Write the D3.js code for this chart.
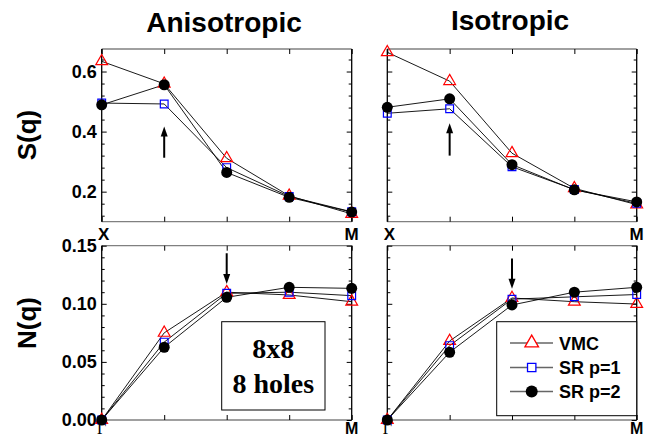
<!DOCTYPE html>
<html>
<head>
<meta charset="utf-8">
<script src="https://cdn.jsdelivr.net/npm/d3@7"></script>
<style>
  body { margin: 0; background: #fff; }
  text { font-family: "Liberation Sans", Arial, sans-serif; font-weight: bold; }
</style>
</head>
<body>
<svg id="chart"></svg>
<script>
// Momentum points along the path (index 0..4)
var kIndex = [0, 1, 2, 3, 4];
var topLabels = ["X", "M"];
var bottomLabels = ["\u0393", "M"];
var titles = ["Anisotropic", "Isotropic"];
var seriesNames = ["VMC", "SR p=1", "SR p=2"];

// S(q) values
var sAniVMC = [0.634, 0.559, 0.311, 0.186, 0.126];
var sAniP1  = [0.495, 0.492, 0.280, 0.184, 0.133];
var sAniP2  = [0.489, 0.556, 0.264, 0.181, 0.132];
var sIsoVMC = [0.664, 0.568, 0.328, 0.211, 0.157];
var sIsoP1  = [0.461, 0.476, 0.283, 0.207, 0.161];
var sIsoP2  = [0.481, 0.509, 0.290, 0.206, 0.166];

// N(q) values
var nAniVMC = [0, 0.075, 0.110, 0.1076, 0.1018];
var nAniP1  = [0, 0.067, 0.109, 0.110, 0.107];
var nAniP2  = [0, 0.0626, 0.1056, 0.1142, 0.1133];
var nIsoVMC = [0, 0.068, 0.105, 0.1018, 0.0998];
var nIsoP1  = [0, 0.064, 0.104, 0.106, 0.108];
var nIsoP2  = [0, 0.0583, 0.099, 0.110, 0.1142];

// tick values
var sMajor = [0.2, 0.4, 0.6];
var sMinor = [0.12, 0.16, 0.24, 0.28, 0.32, 0.36, 0.44, 0.48, 0.52, 0.56, 0.64];
var nMajor = [0, 0.05, 0.10, 0.15];
var nMinor = [0.01, 0.02, 0.03, 0.04, 0.06, 0.07, 0.08, 0.09, 0.11, 0.12, 0.13, 0.14];

// arrows: [k index, from value, to value]
var arrowsS = [[1, 0.313, 0.417], [1, 0.32, 0.428]];
var arrowsN = [[2, 0.1435, 0.117], [2, 0.139, 0.113]];

// Page setup
var width = 650, height = 439;
var svg = d3.select("#chart")
    .attr("width", width)
    .attr("height", height)
    .attr("viewBox", [0, 0, width, height]);

var cols = [[101.7, 351.7], [387.3, 636.7]];
var rows = [[49, 221.7], [245.7, 420]];

var colors = ["#ff0000", "#0000ff", "#000000"];

var triangle = d3.symbol().type(d3.symbolTriangle).size(60);
var square = d3.symbol().type(d3.symbolSquare).size(60);

function drawPanel(col, row, data, domain, major, minor, labelFmt, xLabels, arrow) {
  var x = d3.scalePoint().domain(kIndex).range(cols[col]);
  var y = d3.scaleLinear().domain(domain).range([rows[row][1], rows[row][0]]);
  var g = svg.append("g");

  // frame: gray horizontals, black verticals
  g.append("line").attr("x1", cols[col][0]).attr("x2", cols[col][1])
      .attr("y1", rows[row][0]).attr("y2", rows[row][0])
      .attr("stroke", "#808080").attr("stroke-width", 1.3);
  g.append("line").attr("x1", cols[col][0]).attr("x2", cols[col][1])
      .attr("y1", rows[row][1]).attr("y2", rows[row][1])
      .attr("stroke", "#808080").attr("stroke-width", 1.3);
  g.append("line").attr("x1", cols[col][0]).attr("x2", cols[col][0])
      .attr("y1", rows[row][0]).attr("y2", rows[row][1])
      .attr("stroke", "#000").attr("stroke-width", 1.3);
  g.append("line").attr("x1", cols[col][1]).attr("x2", cols[col][1])
      .attr("y1", rows[row][0]).attr("y2", rows[row][1])
      .attr("stroke", "#000").attr("stroke-width", 1.3);

  // y axes (ticks inside)
  var left = g.append("g").attr("transform", "translate(" + cols[col][0] + ",0)")
      .call(d3.axisLeft(y).tickValues(major).tickSize(-5).tickSizeOuter(0).tickPadding(5)
        .tickFormat(col == 0 ? labelFmt : ""));
  g.append("g").attr("transform", "translate(" + cols[col][0] + ",0)")
      .call(d3.axisLeft(y).tickValues(minor).tickSize(-3).tickSizeOuter(0).tickFormat(""));
  g.append("g").attr("transform", "translate(" + cols[col][1] + ",0)")
      .call(d3.axisRight(y).tickValues(major).tickSize(-5).tickSizeOuter(0).tickFormat(""));
  g.append("g").attr("transform", "translate(" + cols[col][1] + ",0)")
      .call(d3.axisRight(y).tickValues(minor).tickSize(-3).tickSizeOuter(0).tickFormat(""));
  // x ticks top and bottom
  g.append("g").attr("transform", "translate(0," + rows[row][0] + ")")
      .call(d3.axisTop(x).tickSize(-5).tickSizeOuter(0).tickFormat(""));
  g.append("g").attr("transform", "translate(0," + rows[row][1] + ")")
      .call(d3.axisBottom(x).tickSize(-5).tickSizeOuter(0).tickFormat(""));
  g.selectAll(".domain").remove();
  g.selectAll(".tick line").attr("stroke", "#000").attr("stroke-width", 1);
  left.selectAll("text").attr("font-size", 18).attr("fill", "#000")
      .style("font-family", "'Liberation Sans', Arial, sans-serif").attr("font-weight", "bold");

  // x end labels
  if (row == 0) {
    g.append("text").attr("x", x(0) + 2).attr("y", rows[row][1] + 18)
        .attr("text-anchor", "middle").attr("font-size", 17).text(xLabels[0]);
    g.append("text").attr("x", x(4)).attr("y", rows[row][1] + 18)
        .attr("text-anchor", "middle").attr("font-size", 17).text(xLabels[1]);
  } else {
    g.append("text").attr("x", x(0)).attr("y", rows[row][1] + 14)
        .attr("text-anchor", "middle").attr("font-size", 16)
        .style("font-family", "'Liberation Serif', serif").style("font-weight", "normal")
        .text(xLabels[0]);
    g.append("text").attr("x", x(4)).attr("y", rows[row][1] + 14)
        .attr("text-anchor", "middle").attr("font-size", 16).text(xLabels[1]);
  }

  // lines
  var line = d3.line().x(function(d, i) { return x(i); }).y(function(d) { return y(d); });
  data.forEach(function(s) {
    g.append("path").datum(s).attr("d", line)
        .attr("fill", "none").attr("stroke", "#000").attr("stroke-width", 0.9);
  });

  // markers
  g.selectAll(".tri").data(data[0]).enter().append("path")
      .attr("transform", function(d, i) { return "translate(" + x(i) + "," + y(d) + ")"; })
      .attr("d", triangle).attr("fill", "none").attr("stroke", colors[0]).attr("stroke-width", 1.2);
  g.selectAll(".sq").data(data[1]).enter().append("path")
      .attr("transform", function(d, i) { return "translate(" + x(i) + "," + y(d) + ")"; })
      .attr("d", square).attr("fill", "none").attr("stroke", colors[1]).attr("stroke-width", 1.2);
  g.selectAll(".dot").data(data[2]).enter().append("circle")
      .attr("cx", function(d, i) { return x(i); })
      .attr("cy", function(d) { return y(d); })
      .attr("r", 5.5).attr("fill", colors[2]);

  // arrow
  var ax = x(arrow[0]), y0 = y(arrow[1]), y1 = y(arrow[2]);
  var dir = y1 < y0 ? -1 : 1;
  g.append("line").attr("x1", ax).attr("x2", ax).attr("y1", y0).attr("y2", y1 - dir * 8)
      .attr("stroke", "#000").attr("stroke-width", 2);
  g.append("path")
      .attr("d", "M" + ax + "," + y1 + "L" + (ax - 3.5) + "," + (y1 - dir * 10) +
        "L" + (ax + 3.5) + "," + (y1 - dir * 10) + "Z")
      .attr("fill", "#000");
  return {x: x, y: y};
}

var fmtS = d3.format(".1f");
var fmtN = d3.format(".2f");

drawPanel(0, 0, [sAniVMC, sAniP1, sAniP2], [0.1, 0.675], sMajor, sMinor, fmtS, topLabels, arrowsS[0]);
drawPanel(1, 0, [sIsoVMC, sIsoP1, sIsoP2], [0.1, 0.675], sMajor, sMinor, fmtS, topLabels, arrowsS[1]);
drawPanel(0, 1, [nAniVMC, nAniP1, nAniP2], [0, 0.15], nMajor, nMinor, fmtN, bottomLabels, arrowsN[0]);
drawPanel(1, 1, [nIsoVMC, nIsoP1, nIsoP2], [0, 0.15], nMajor, nMinor, fmtN, bottomLabels, arrowsN[1]);

// Titles
svg.append("text").attr("x", 224).attr("y", 32).attr("text-anchor", "middle")
    .attr("font-size", 28).text(titles[0]);
svg.append("text").attr("x", 510).attr("y", 30).attr("text-anchor", "middle")
    .attr("font-size", 28).text(titles[1]);

// Y labels
svg.append("text").attr("transform", "translate(36,135) rotate(-90)")
    .attr("text-anchor", "middle").attr("font-size", 26).text("S(q)");
svg.append("text").attr("transform", "translate(36,323) rotate(-90)")
    .attr("text-anchor", "middle").attr("font-size", 26).text("N(q)");

// Size annotation box
var note = svg.append("g");
note.append("rect").attr("x", 221.7).attr("y", 321.7).attr("width", 103.3).attr("height", 88.3)
    .attr("fill", "#fff").attr("stroke", "#000").attr("stroke-width", 1);
note.append("text").attr("x", 273.3).attr("y", 358).attr("text-anchor", "middle")
    .style("font-family", "'Liberation Serif', serif").attr("font-size", 28).text("8x8");
note.append("text").attr("x", 273.3).attr("y", 393).attr("text-anchor", "middle")
    .style("font-family", "'Liberation Serif', serif").attr("font-size", 28).text("8 holes");

// Legend
var legend = svg.append("g");
legend.append("rect").attr("x", 496.7).attr("y", 321.7).attr("width", 140).attr("height", 94)
    .attr("fill", "#fff").attr("stroke", "#000").attr("stroke-width", 1);
var legRows = [343, 367.5, 391.5];
seriesNames.forEach(function(name, i) {
  legend.append("line").attr("x1", 510).attr("x2", 553).attr("y1", legRows[i]).attr("y2", legRows[i])
      .attr("stroke", "#666").attr("stroke-width", 1.5);
  if (i == 0) {
    legend.append("path").attr("transform", "translate(531.7," + legRows[i] + ")")
        .attr("d", d3.symbol().type(d3.symbolTriangle).size(80))
        .attr("fill", "#fff").attr("stroke", colors[0]).attr("stroke-width", 1.3);
  } else if (i == 1) {
    legend.append("path").attr("transform", "translate(531.7," + legRows[i] + ")")
        .attr("d", d3.symbol().type(d3.symbolSquare).size(70))
        .attr("fill", "#fff").attr("stroke", colors[1]).attr("stroke-width", 1.3);
  } else {
    legend.append("circle").attr("cx", 531.7).attr("cy", legRows[i]).attr("r", 6)
        .attr("fill", colors[2]);
  }
  legend.append("text").attr("x", 559).attr("y", legRows[i] + 6.5)
      .attr("font-size", 18).text(name);
});
</script>
</body>
</html>
